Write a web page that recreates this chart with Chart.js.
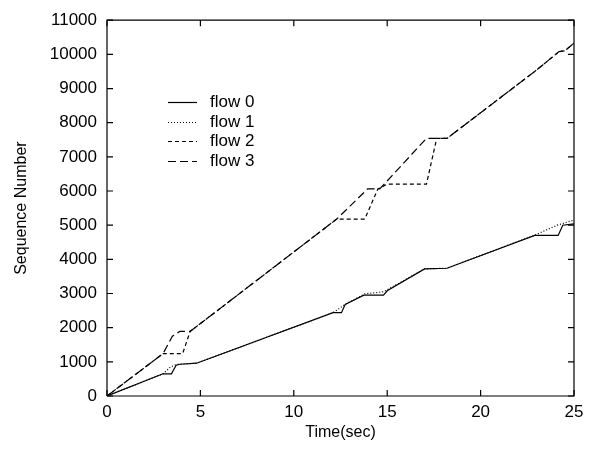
<!DOCTYPE html>
<html>
<head>
<meta charset="utf-8">
<script src="https://cdn.jsdelivr.net/npm/chart.js@4"></script>
<style>
  html, body { margin: 0; padding: 0; background: #fff; }
  #wrap { width: 599px; height: 449px; position: relative; }
</style>
</head>
<body>
<div id="wrap"><canvas id="seqChart"></canvas></div>
<script>
// Sequence number vs time
const flowNames = ['flow 0', 'flow 1', 'flow 2', 'flow 3'];

const flow0Time = [0, 3.0, 3.45, 3.7, 3.9, 4.8, 12.1, 12.55, 12.75, 13.75, 14.8, 15.0, 17.0, 18.2, 22.9, 24.15, 24.4, 25];
const flow0Seq  = [0, 650, 650, 900, 930, 960, 2440, 2440, 2680, 2950, 2950, 3080, 3720, 3740, 4700, 4700, 5000, 5040];

const flow1Time = [0, 3.0, 3.4, 3.7, 4.8, 12.1, 12.75, 13.8, 14.8, 17.0, 18.2, 22.9, 24.1, 25];
const flow1Seq  = [0, 650, 850, 920, 960, 2440, 2680, 2990, 3050, 3720, 3740, 4710, 5000, 5150];

const flow2Time = [0, 3.0, 4.05, 4.45, 12.3, 13.8, 14.5, 15.0, 17.1, 17.65, 18.2, 22.9, 24.2, 24.5, 25];
const flow2Seq  = [0, 1240, 1240, 1890, 5180, 5180, 6060, 6200, 6200, 7540, 7540, 9500, 10080, 10100, 10330];

const flow3Time = [0, 3.0, 3.5, 3.9, 4.45, 12.3, 13.95, 14.6, 17.1, 18.2, 22.9, 24.2, 24.5, 25];
const flow3Seq  = [0, 1240, 1750, 1890, 1890, 5180, 6060, 6060, 7540, 7540, 9500, 10080, 10100, 10330];

const xTicks = [0, 5, 10, 15, 20, 25];
const yTicks = [0, 1000, 2000, 3000, 4000, 5000, 6000, 7000, 8000, 9000, 10000, 11000];

const xMin = 0, xMax = 25, yMin = 0, yMax = 11000;

const FONT = "'Liberation Sans', Arial, Helvetica, sans-serif";

function pts(t, s) {
  return t.map((v, i) => ({ x: v, y: s[i] }));
}

const dashes = [[], [1, 2], [4, 3], [8, 4]];
const series = [pts(flow0Time, flow0Seq), pts(flow1Time, flow1Seq), pts(flow2Time, flow2Seq), pts(flow3Time, flow3Seq)];

// plot border, run through the same scales as the data (the axis limits)
const borderPath = [
  { x: xMin, y: yMin }, { x: xMax, y: yMin }, { x: xMax, y: yMax },
  { x: xMin, y: yMax }, { x: xMin, y: yMin }
];

// inward ticks on all four sides, plus the key
const frame = {
  id: 'frame',
  afterDraw(chart) {
    const ctx = chart.ctx;
    const sx = chart.scales.x, sy = chart.scales.y;
    const L = sx.getPixelForValue(xMin), R = sx.getPixelForValue(xMax);
    const T = sy.getPixelForValue(yMax), B = sy.getPixelForValue(yMin);
    const len = 6;
    ctx.save();
    ctx.strokeStyle = '#000';
    ctx.lineWidth = 1.2;
    ctx.setLineDash([]);
    ctx.beginPath();
    xTicks.forEach(v => {
      const px = sx.getPixelForValue(v);
      ctx.moveTo(px, B); ctx.lineTo(px, B - len);
      ctx.moveTo(px, T); ctx.lineTo(px, T + len);
    });
    yTicks.forEach(v => {
      const py = sy.getPixelForValue(v);
      ctx.moveTo(L, py); ctx.lineTo(L + len, py);
      ctx.moveTo(R, py); ctx.lineTo(R - len, py);
    });
    ctx.stroke();

    const k = { left: 168, top: 102, gap: 19.5, sample: 29 };
    ctx.fillStyle = '#000';
    ctx.font = '17px ' + FONT;
    ctx.textBaseline = 'middle';
    ctx.textAlign = 'left';
    flowNames.forEach((name, i) => {
      const y = Math.round(k.top + i * k.gap) + 0.5;
      ctx.beginPath();
      ctx.setLineDash(dashes[i]);
      ctx.moveTo(k.left, y);
      ctx.lineTo(k.left + k.sample, y);
      ctx.stroke();
      ctx.setLineDash([]);
      ctx.fillText(name, k.left + k.sample + 13, y);
    });
    ctx.restore();
  }
};

const flowSets = flowNames.map((name, i) => ({
  label: name,
  data: series[i],
  borderColor: '#000',
  borderWidth: 1.2,
  borderDash: dashes[i],
  pointRadius: 0,
  tension: 0,
  fill: false
}));

new Chart(document.getElementById('seqChart'), {
  type: 'line',
  data: {
    datasets: flowSets.concat([{
      label: 'border',
      data: borderPath,
      borderColor: '#000',
      borderWidth: 1.2,
      pointRadius: 0,
      tension: 0,
      fill: false,
      clip: false
    }])
  },
  plugins: [frame],
  options: {
    responsive: true,
    maintainAspectRatio: false,
    animation: false,
    layout: { padding: { left: 0, right: 25, top: 8, bottom: 0 } },
    plugins: {
      legend: { display: false },
      tooltip: { enabled: false }
    },
    scales: {
      x: {
        type: 'linear',
        min: xMin,
        max: xMax,
        afterFit: s => { s.height = 53; },
        afterBuildTicks: s => { s.ticks = xTicks.map(v => ({ value: v })); },
        grid: { display: false, drawTicks: false, tickLength: 0 },
        border: { display: false },
        ticks: { color: '#000', padding: 6, maxRotation: 0, font: { family: FONT, size: 17 } },
        title: { display: true, text: 'Time(sec)', color: '#000', padding: { top: 4, bottom: 7 }, font: { family: FONT, size: 16 } }
      },
      y: {
        type: 'linear',
        min: yMin,
        max: yMax,
        afterFit: s => { s.width = 107; },
        afterBuildTicks: s => { s.ticks = yTicks.map(v => ({ value: v })); },
        grid: { display: false, drawTicks: false, tickLength: 0 },
        border: { display: false },
        ticks: { color: '#000', padding: 10, font: { family: FONT, size: 17 }, callback: v => String(v) },
        title: { display: true, text: 'Sequence Number', color: '#000', padding: { top: 12, bottom: 4 }, font: { family: FONT, size: 16 } }
      }
    }
  }
});
</script>
</body>
</html>
